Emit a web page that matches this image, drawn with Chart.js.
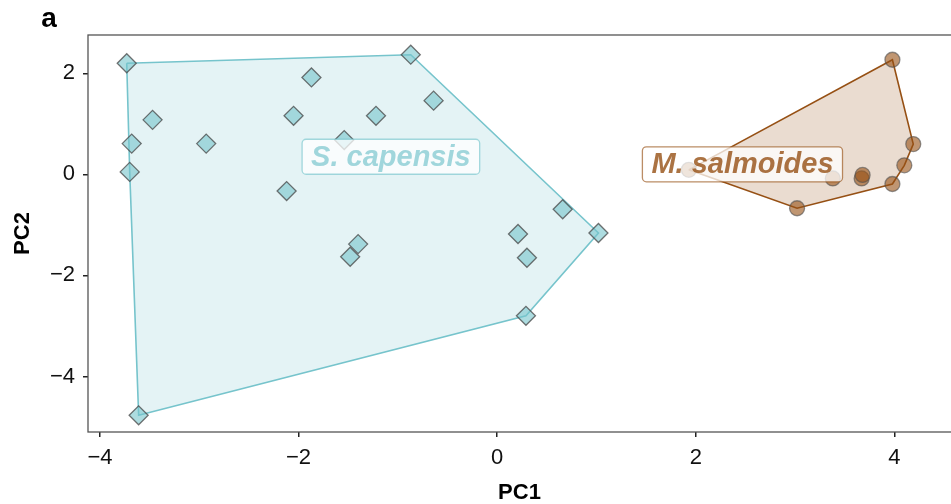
<!DOCTYPE html>
<html>
<head>
<meta charset="utf-8">
<script src="https://cdn.jsdelivr.net/npm/chart.js@4"></script>
<style>
  html, body { margin: 0; padding: 0; background: #fff; }
  #wrap { width: 951px; height: 504px; }
</style>
</head>
<body>
<div id="wrap"><canvas id="pca" width="951" height="504"></canvas></div>
<script>
// PCA scores
const capensisPC1 = [-3.73, -0.87, -1.87, -3.47, -2.05, -1.22, -0.64, -3.68, -2.93, -1.54,
                     -3.70, -2.12, 0.66, 1.02, 0.21, 0.30, -1.40, -1.48, 0.29, -3.61];
const capensisPC2 = [2.20, 2.37, 1.92, 1.08, 1.16, 1.16, 1.46, 0.61, 0.61, 0.68,
                     0.05, -0.33, -0.69, -1.16, -1.18, -1.65, -1.38, -1.63, -2.80, -4.77];
const salmoidesPC1 = [3.98, 4.19, 4.10, 3.98, 3.67, 3.68, 3.38, 3.02, 1.93];
const salmoidesPC2 = [2.27, 0.60, 0.18, -0.19, -0.08, -0.01, -0.08, -0.67, 0.09];

const groupNames = ['S. capensis', 'M. salmoides'];
const labelPC1 = [-1.07, 2.47];
const labelPC2 = [0.35, 0.20];

const xTicks = [-4, -2, 0, 2, 4];
const yTicks = [-4, -2, 0, 2];

const TEAL = '118,196,204';
const BROWN = '150,80,20';

const toPoints = (xs, ys) => xs.map((x, i) => ({ x: x, y: ys[i] }));

// convex hull (monotone chain), closed for drawing
const hull = (pts) => {
    const p = pts.slice().sort((a, b) => a.x - b.x || a.y - b.y);
    const cross = (o, a, b) => (a.x - o.x) * (b.y - o.y) - (a.y - o.y) * (b.x - o.x);
    const lower = [], upper = [];
    for (const q of p) {
        while (lower.length >= 2 && cross(lower[lower.length - 2], lower[lower.length - 1], q) <= 0) lower.pop();
        lower.push(q);
    }
    for (let i = p.length - 1; i >= 0; i--) {
        const q = p[i];
        while (upper.length >= 2 && cross(upper[upper.length - 2], upper[upper.length - 1], q) <= 0) upper.pop();
        upper.push(q);
    }
    const h = lower.slice(0, -1).concat(upper.slice(0, -1));
    h.push(h[0]);
    return h;
};

const capPts = toPoints(capensisPC1, capensisPC2);
const salPts = toPoints(salmoidesPC1, salmoidesPC2);

const fmt = (v) => String(v).replace('-', '\u2212');

// panel frame, panel tag and group labels
const decorPlugin = {
    id: 'decor',
    afterDatasetsDraw(chart) {
        const ctx = chart.ctx;
        const xs = chart.scales.x, ys = chart.scales.y;
        const colors = [TEAL, BROWN];
        const textAlpha = [0.68, 0.8];
        ctx.save();
        ctx.font = 'italic bold 29px "Liberation Sans", Arial, sans-serif';
        ctx.textAlign = 'center';
        ctx.textBaseline = 'middle';
        groupNames.forEach((name, i) => {
            const cx = xs.getPixelForValue(labelPC1[i]);
            const cy = ys.getPixelForValue(labelPC2[i]);
            const w = ctx.measureText(name).width + 18;
            const h = 35;
            ctx.beginPath();
            ctx.roundRect(cx - w / 2, cy - h / 2, w, h, 4);
            ctx.fillStyle = 'rgba(255,255,255,0.75)';
            ctx.fill();
            ctx.lineWidth = 1.3;
            ctx.strokeStyle = 'rgba(' + colors[i] + ',0.65)';
            ctx.stroke();
            ctx.fillStyle = 'rgba(' + colors[i] + ',' + textAlpha[i] + ')';
            ctx.fillText(name, cx, cy + 1);
        });
        ctx.restore();
    },
    afterDraw(chart) {
        const ctx = chart.ctx;
        const a = chart.chartArea;
        ctx.save();
        ctx.strokeStyle = '#555';
        ctx.lineWidth = 1.3;
        ctx.strokeRect(a.left, a.top, a.right - a.left + 5, a.bottom - a.top);
        ctx.fillStyle = '#000';
        ctx.font = 'bold 28px "Liberation Sans", Arial, sans-serif';
        ctx.textAlign = 'center';
        ctx.textBaseline = 'middle';
        ctx.fillText('a', 49, 19);
        ctx.restore();
    }
};

const tickFont = { family: '"Liberation Sans", Arial, sans-serif', size: 22 };
const titleFont = { family: '"Liberation Sans", Arial, sans-serif', size: 22, weight: 'bold', lineHeight: 1 };

new Chart(document.getElementById('pca'), {
    type: 'scatter',
    data: {
        datasets: [
            {
                label: 'hull S. capensis',
                data: hull(capPts),
                showLine: true,
                fill: 'shape',
                borderColor: 'rgb(' + TEAL + ')',
                backgroundColor: 'rgba(' + TEAL + ',0.2)',
                borderWidth: 1.6,
                pointRadius: 0,
                order: 3
            },
            {
                label: 'hull M. salmoides',
                data: hull(salPts),
                showLine: true,
                fill: 'shape',
                borderColor: 'rgb(' + BROWN + ')',
                backgroundColor: 'rgba(' + BROWN + ',0.2)',
                borderWidth: 1.6,
                pointRadius: 0,
                order: 3
            },
            {
                label: 'S. capensis',
                data: capPts,
                pointStyle: 'rectRot',
                pointRadius: 9.5,
                backgroundColor: 'rgba(' + TEAL + ',0.6)',
                borderColor: 'rgba(70,70,70,0.75)',
                borderWidth: 1.3,
                order: 1
            },
            {
                label: 'M. salmoides',
                data: salPts,
                pointStyle: 'circle',
                pointRadius: 7.5,
                backgroundColor: 'rgba(' + BROWN + ',0.6)',
                borderColor: 'rgba(80,80,80,0.6)',
                borderWidth: 1.3,
                order: 1
            }
        ]
    },
    options: {
        responsive: false,
        animation: false,
        layout: { autoPadding: false, padding: { top: 35, right: 0, left: 0, bottom: 0 } },
        plugins: {
            legend: { display: false },
            tooltip: { enabled: false }
        },
        scales: {
            x: {
                type: 'linear',
                min: -4.12,
                max: 4.57,
                afterBuildTicks: (s) => { s.ticks = xTicks.map(v => ({ value: v })); },
                afterFit: (s) => { s.height = 72; },
                border: { display: false },
                grid: { drawOnChartArea: false, drawTicks: true, tickLength: 5, color: '#222', lineWidth: 1.5 },
                ticks: { font: tickFont, color: '#111', padding: 8, maxRotation: 0, callback: fmt },
                title: { display: true, text: 'PC1', font: titleFont, color: '#000', padding: { top: 0, bottom: 0 } }
            },
            y: {
                type: 'linear',
                min: -5.10,
                max: 2.76,
                afterBuildTicks: (s) => { s.ticks = yTicks.map(v => ({ value: v })); },
                afterFit: (s) => { s.width = 88; },
                border: { display: false },
                grid: { drawOnChartArea: false, drawTicks: true, tickLength: 5, color: '#222', lineWidth: 1.5 },
                ticks: { font: tickFont, color: '#111', padding: 8, callback: fmt },
                title: { display: true, text: 'PC2', font: titleFont, color: '#000', padding: { top: 12, bottom: 0 } }
            }
        }
    },
    plugins: [decorPlugin]
});
</script>
</body>
</html>
